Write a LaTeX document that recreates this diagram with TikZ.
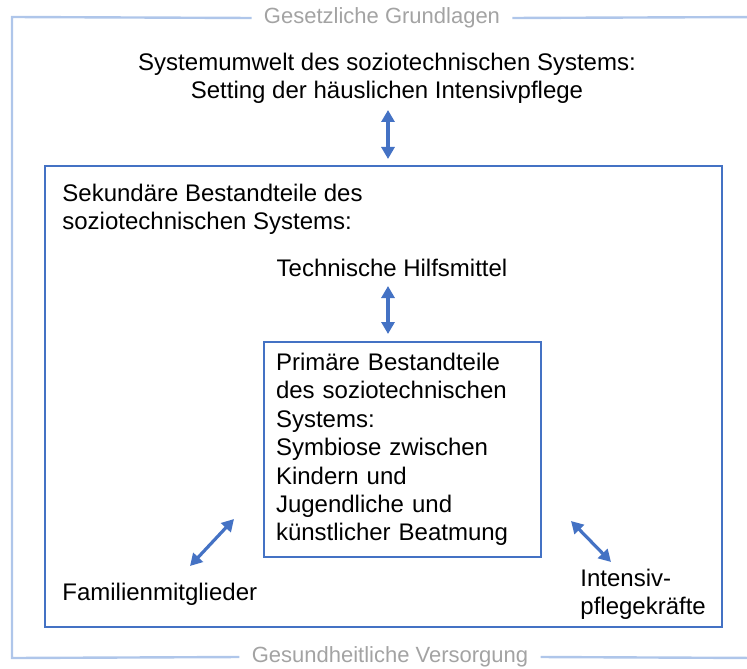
\documentclass[tikz,border=0pt]{standalone}
\usepackage{fontspec}
\setmainfont{Liberation Sans}
\usetikzlibrary{arrows.meta, positioning}

\definecolor{boxblue}{HTML}{4472C4}
\definecolor{paleblue}{HTML}{AFC6EA}
\definecolor{labelgrey}{HTML}{A3A3A3}

\tikzset{
  txt/.style={font=\fontsize{12}{14.2}\selectfont, inner sep=0pt},
  edgelabel/.style={font=\fontsize{11}{13}\selectfont, text=labelgrey, inner xsep=6pt, inner ysep=0pt},
  frame/.style={draw=boxblue, line width=1pt},
  outerframe/.style={draw=paleblue, line width=1.2pt},
  link/.style={draw=boxblue, line width=1.6pt, {Triangle[length=6pt,width=6.5pt]}-{Triangle[length=6pt,width=6.5pt]}}
}

\begin{document}
\begin{tikzpicture}[x=0.5pt, y=-0.5pt]
    \useasboundingbox (0,0) rectangle (747,668);
    % outer frame with its two labels
    \node [edgelabel] (law) at (382,18) {Gesetzliche Grundlagen};
    \node [edgelabel] (care) at (390,657) {Gesundheitliche Versorgung};
    \draw [outerframe] (law.west) -- (12,17) -- (12,658) -- (care.west);
    \draw [outerframe] (law.east) -- (760,17);
    \draw [outerframe] (care.east) -- (760,658);
    % system environment
    \node [txt, align=center] (umwelt) at (387,78) {Systemumwelt des soziotechnischen Systems:\\Setting der häuslichen Intensivpflege};
    % secondary parts
    \node [frame, minimum width=338.5pt, minimum height=230.5pt] (sekbox) at (383.5,396.5) {};
    \node [txt, align=left, anchor=west] (sek) at (62,209) {Sekundäre Bestandteile des\\soziotechnischen Systems:};
    \node [txt] (tech) at (392,268) {Technische Hilfsmittel};
    % primary parts
    \node [frame, txt, anchor=north west, text width=126.5pt, inner xsep=6pt, minimum height=107.5pt, align=left] (prim) at (263,341)
      {Primäre Bestandteile\\des soziotechnischen\\Systems:\\Symbiose zwischen\\Kindern und\\Jugendliche und\\künstlicher Beatmung};
    \node [txt, anchor=west] (familie) at (62,594) {Familienmitglieder};
    \node [txt, anchor=west, align=left] (pflege) at (580,594) {Intensiv-\\pflegekräfte};
    % arrows
    \coordinate (u1) at (388,110);
    \coordinate (u2) at (388,159);
    \coordinate (t1) at (388,286);
    \coordinate (t2) at (388,334);
    \coordinate (f1) at (234,519);
    \coordinate (f2) at (190,566);
    \coordinate (p1) at (571,521);
    \coordinate (p2) at (611,562);
    \draw [link] (u1) -- (u2);
    \draw [link] (t1) -- (t2);
    \draw [link] (f1) -- (f2);
    \draw [link] (p1) -- (p2);
\end{tikzpicture}
\end{document}
